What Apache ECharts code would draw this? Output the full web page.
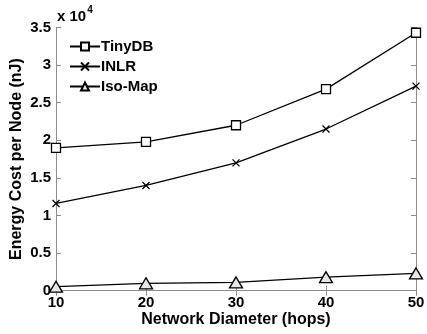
<!DOCTYPE html>
<html><head><meta charset="utf-8">
<script src="https://cdn.jsdelivr.net/npm/echarts@6/dist/echarts.min.js"></script>
<style>html,body{margin:0;padding:0;background:#fff}#c{width:427px;height:334px}</style>
</head><body><div id="c"></div>
<script>
var categories = [10, 20, 30, 40, 50];
var tinyDB = [19000, 19800, 22000, 26800, 34300];
var inlr = [11600, 14000, 17000, 21500, 27200];
var isoMap = [530, 980, 1100, 1800, 2300];
var yTicks = [0, 0.5, 1, 1.5, 2, 2.5, 3, 3.5];

var font = 'Liberation Sans, Arial, sans-serif';
var chart = echarts.init(document.getElementById('c'));
function pairs(a){ return a.map(function(v,i){ return [categories[i], v]; }); }
var axisGray = '#8c8c8c';
var common = {type:'line', symbolSize:9, lineStyle:{color:'#000', width:1.3}, itemStyle:{color:'#fff', borderColor:'#000', borderWidth:1.3}, emphasis:{disabled:true}, z:5};
chart.setOption({
  animation:false,
  grid:{left:56, right:11, top:27.5, bottom:43.3, containLabel:false, outerBoundsMode:'none'},
  legend:{
    left:64, top:34, orient:'vertical', itemGap:5, itemWidth:30, itemHeight:10,
    textStyle:{fontFamily:font, fontWeight:'bold', fontSize:15, color:'#000', padding:[0,0,0,-4]},
    data:['TinyDB','INLR','Iso-Map']
  },
  xAxis:[{
    type:'value', min:10, max:50, interval:10,
    name:'Network Diameter (hops)', nameLocation:'middle', nameGap:21, nameMoveOverlap:false,
    nameTextStyle:{fontFamily:font, fontWeight:'bold', fontSize:16, color:'#000'},
    axisLine:{lineStyle:{color:axisGray}}, axisTick:{inside:true, length:5, lineStyle:{color:axisGray}},
    axisLabel:{fontFamily:font, fontWeight:'bold', fontSize:15, color:'#000', margin:5},
    splitLine:{show:false}
  },{
    type:'value', position:'top', min:10, max:50, interval:10,
    axisLine:{lineStyle:{color:axisGray}}, axisTick:{inside:true, length:5, lineStyle:{color:axisGray}},
    axisLabel:{show:false}, splitLine:{show:false}
  }],
  yAxis:[{
    type:'value', min:0, max:35000, interval:5000,
    name:'Energy Cost per Node (nJ)', nameLocation:'middle', nameGap:31, nameMoveOverlap:false,
    nameTextStyle:{fontFamily:font, fontWeight:'bold', fontSize:16, color:'#000'},
    axisLine:{show:true, lineStyle:{color:axisGray}}, axisTick:{show:true, inside:true, length:5, lineStyle:{color:axisGray}},
    axisLabel:{fontFamily:font, fontWeight:'bold', fontSize:15, color:'#000', margin:5,
      formatter:function(v){ return String(yTicks[Math.round(v/5000)]); }},
    splitLine:{show:false}
  },{
    type:'value', position:'right', min:0, max:35000, interval:5000,
    axisLine:{show:true, lineStyle:{color:axisGray}}, axisTick:{show:true, inside:true, length:5, lineStyle:{color:axisGray}},
    axisLabel:{show:false}, splitLine:{show:false}
  }],
  graphic:[{
    type:'text', left:57, top:5,
    style:{text:'{b|x 10}{s|4}', rich:{
      b:{fontFamily:font, fontWeight:'bold', fontSize:15, fill:'#000', verticalAlign:'bottom', lineHeight:19},
      s:{fontFamily:font, fontWeight:'bold', fontSize:10, fill:'#000', verticalAlign:'top', padding:[0,0,8,1], lineHeight:10}
    }}
  }],
  series:[
    Object.assign({}, common, {name:'TinyDB', symbol:'rect', data:pairs(tinyDB)}),
    Object.assign({}, common, {name:'INLR', symbol:'path://M0,0L10,10M10,0L0,10', symbolSize:7, itemStyle:{color:'none', borderColor:'#000', borderWidth:1.3}, data:pairs(inlr)}),
    Object.assign({}, common, {name:'Iso-Map', symbol:'triangle', symbolSize:[13,11], itemStyle:{color:'#e6e6e6', borderColor:'#000', borderWidth:1.3}, data:pairs(isoMap)})
  ]
});
</script></body></html>
